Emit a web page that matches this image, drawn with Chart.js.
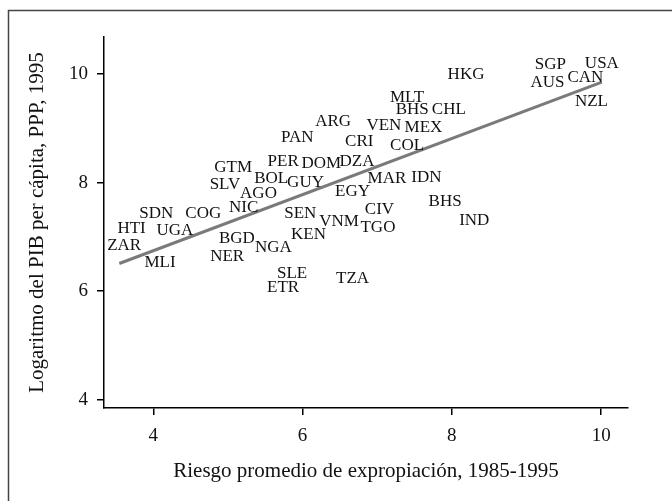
<!DOCTYPE html>
<html>
<head>
<meta charset="utf-8">
<script src="https://cdn.jsdelivr.net/npm/chart.js@4/dist/chart.umd.min.js"></script>
<style>
  html, body { margin: 0; padding: 0; background: #fff; }
  #wrap { width: 672px; height: 501px; position: relative; }
</style>
</head>
<body>
<div id="wrap"><canvas id="chart" width="672" height="501"></canvas></div>
<script>
// países y valores (riesgo de expropiación, log PIB per cápita)
const codes = ['USA','SGP','AUS','CAN','NZL','HKG','MLT','BHS','CHL','VEN','MEX','CRI','COL',
  'ARG','PAN','PER','DOM','DZA','GTM','SLV','BOL','GUY','AGO','NIC','EGY','MAR','IDN','BHS',
  'IND','CIV','TGO','VNM','SEN','KEN','NGA','BGD','NER','SLE','ETR','TZA','MLI','ZAR','HTI',
  'SDN','UGA','COG'];
const riesgo = [10.01, 9.32, 9.28, 9.79, 9.87, 8.19, 7.40, 7.47, 7.96, 7.09, 7.62, 6.76, 7.40,
  6.41, 5.93, 5.74, 6.25, 6.73, 5.07, 4.96, 5.58, 6.04, 5.41, 5.21, 6.67, 7.13, 7.66, 7.91,
  8.30, 7.03, 7.01, 6.49, 5.97, 6.08, 5.61, 5.12, 4.99, 5.86, 5.74, 6.67, 4.09, 3.61, 3.71,
  4.04, 4.29, 4.67];
const pib = [10.20, 10.18, 9.85, 9.94, 9.49, 9.98, 9.56, 9.34, 9.34, 9.05, 9.01, 8.75, 8.68,
  9.12, 8.83, 8.39, 8.35, 8.39, 8.28, 7.96, 8.07, 8.00, 7.80, 7.54, 7.83, 8.07, 8.09, 7.65,
  7.30, 7.50, 7.17, 7.28, 7.43, 7.05, 6.81, 6.97, 6.64, 6.33, 6.06, 6.24, 6.53, 6.84, 7.16,
  7.43, 7.12, 7.43];
// recta de ajuste
const lineX = [3.545, 10.01];
const lineY = [6.51, 9.85];
const xTicks = [4, 6, 8, 10];
const yTicks = [4, 6, 8, 10];

const serif = "'Liberation Serif', 'DejaVu Serif', serif";
const ink = '#111';

const points = riesgo.map((x, i) => ({ x: x, y: pib[i] }));
const fit = lineX.map((x, i) => ({ x: x, y: lineY[i] }));

// etiquetas de país en lugar de puntos
const codeLabels = {
  id: 'codeLabels',
  afterDatasetsDraw(chart) {
    const { ctx, scales } = chart;
    ctx.save();
    ctx.font = '17px ' + serif;
    ctx.fillStyle = ink;
    ctx.textAlign = 'center';
    ctx.textBaseline = 'middle';
    chart.data.datasets[1].data.forEach((p, i) => {
      ctx.fillText(codes[i], scales.x.getPixelForValue(p.x), scales.y.getPixelForValue(p.y));
    });
    ctx.restore();
  }
};

// marco exterior
const frame = {
  id: 'frame',
  beforeDraw(chart) {
    const ctx = chart.ctx;
    ctx.save();
    ctx.fillStyle = '#fff';
    ctx.fillRect(0, 0, chart.width, chart.height);
    ctx.strokeStyle = '#444';
    ctx.lineWidth = 1.5;
    ctx.strokeRect(8.5, 10.5, 800, 700);
    ctx.restore();
  }
};

new Chart(document.getElementById('chart'), {
  type: 'scatter',
  data: {
    datasets: [{
      data: fit,
      showLine: true,
      borderColor: '#7a7a7a',
      borderWidth: 3,
      pointRadius: 0
    }, {
      data: points,
      pointRadius: 0
    }]
  },
  options: {
    responsive: false,
    animation: false,
    layout: { padding: { top: 37, right: 44, left: 0, bottom: 0 } },
    plugins: { legend: { display: false }, tooltip: { enabled: false } },
    scales: {
      x: {
        min: 3.34, max: 10.36,
        afterFit(s) { s.height = 93; },
        afterBuildTicks(s) { s.ticks = xTicks.map(v => ({ value: v })); },
        grid: { drawOnChartArea: false, drawTicks: true, tickLength: 7, color: '#000', lineWidth: 1.5 },
        border: { color: '#000', width: 1.5 },
        ticks: { color: ink, padding: 10, font: { family: serif, size: 19 } },
        title: {
          display: true,
          text: 'Riesgo promedio de expropiación, 1985-1995',
          color: ink,
          font: { family: serif, size: 21 },
          padding: { bottom: 17 }
        }
      },
      y: {
        min: 3.85, max: 10.68,
        afterFit(s) { s.width = 104; },
        afterBuildTicks(s) { s.ticks = yTicks.map(v => ({ value: v })); },
        grid: { drawOnChartArea: false, drawTicks: true, tickLength: 7, color: '#000', lineWidth: 1.5 },
        border: { color: '#000', width: 1.5 },
        ticks: { color: ink, padding: 9, font: { family: serif, size: 19 } },
        title: {
          display: true,
          text: 'Logaritmo del PIB per cápita, PPP, 1995',
          color: ink,
          font: { family: serif, size: 21 },
          padding: { top: 25 }
        }
      }
    }
  },
  plugins: [frame, codeLabels]
});
</script>
</body>
</html>
